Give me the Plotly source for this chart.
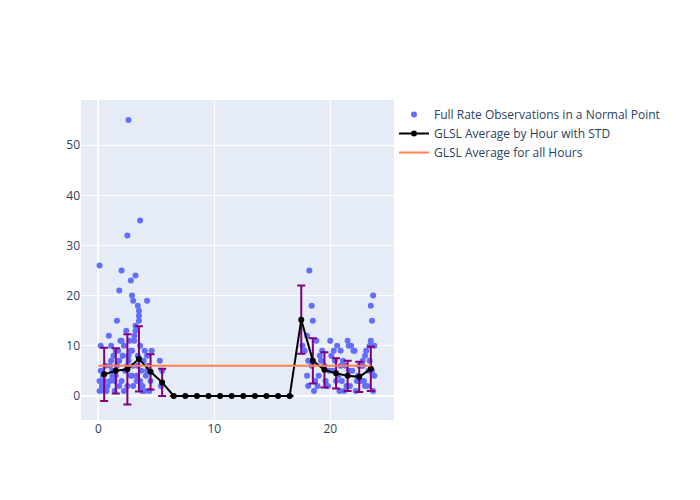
import plotly.graph_objects as go

obs_x = [0.1,0.1,0.2,0.3,0.4,0.5,0.6,0.8,0.9,1.0,1.1,1.2,1.3,1.4,1.5,1.6,1.7,1.8,1.9,2.0,2.1,2.2,2.3,2.4,2.5,2.6,2.7,2.8,2.9,3.0,3.1,3.2,3.3,3.4,3.5,3.6,3.7,3.8,3.9,4.0,4.1,4.2,4.3,4.5,4.6,5.4,5.5,
         0.2,0.5,1.0,1.2,1.5,1.8,2.0,2.2,2.4,2.6,2.8,3.0,3.2,3.4,3.6,3.8,4.2,
         0.3,0.7,1.1,1.4,1.7,2.1,2.5,2.9,3.1,3.3,3.5,3.7,4.0,4.4,5.3,
         0.1,2.6,2.5,2.9,2.0,1.8,3.6,3.2,3.0,2.8,3.4,3.5,1.6,4.2,
         17.6,17.8,18.0,18.2,18.3,18.5,18.7,18.8,19.0,19.3,19.5,19.8,20.0,20.2,20.4,20.6,20.8,21.0,21.3,21.5,21.7,21.9,22.1,22.4,22.6,22.8,23.0,23.2,23.4,23.6,23.7,
         18.1,18.4,19.1,19.6,19.9,20.3,20.7,21.1,21.4,21.8,22.2,22.5,22.9,23.1,23.3,23.5,
         18.0,18.6,19.2,19.7,20.1,20.5,20.9,21.2,21.6,22.0,22.3,22.7,23.0,23.4,23.8,
         18.1,18.4,18.9,23.6,23.7,23.5,23.8,20.9,21.6,22.8]
obs_y = [1,3,5,2,4,1,6,2,12,3,7,5,8,1,4,6,9,2,11,3,8,10,5,13,2,7,11,9,4,6,12,14,3,8,15,10,5,2,7,1,4,8,6,3,9,2,5,
         10,3,6,4,9,7,11,1,5,8,4,2,13,6,3,1,5,
         2,1,10,3,7,8,6,9,11,4,16,2,9,1,7,
         26,55,32,20,25,21,35,24,19,23,18,17,15,19,
         10,9,12,25,7,15,3,11,4,9,6,2,11,5,7,10,1,3,6,11,2,5,9,4,3,6,8,2,7,5,1,
         2,6,8,3,5,9,4,7,2,10,1,6,3,9,5,11,
         4,1,7,2,8,3,6,1,5,9,3,6,2,10,4,
         7,18,2,15,20,18,10,9,10,7]

hours = [0.5,1.5,2.5,3.5,4.5,5.5,6.5,7.5,8.5,9.5,10.5,11.5,12.5,13.5,14.5,15.5,16.5,17.5,18.5,19.5,20.5,21.5,22.5,23.5]
avg = [4.3,5.0,5.3,7.4,4.8,2.7,0,0,0,0,0,0,0,0,0,0,0,15.2,7.0,5.2,4.5,4.0,3.8,5.4]
std = [5.3,4.5,7.0,6.5,3.5,2.7,0,0,0,0,0,0,0,0,0,0,0,6.8,4.5,3.5,3.0,3.0,3.0,4.4]
overall = 6.0

fig = go.Figure()
fig.add_trace(go.Scatter(x=obs_x, y=obs_y, mode="markers", name="Full Rate Observations in a Normal Point",
                         marker=dict(color="#636efa", size=6)))
fig.add_trace(go.Scatter(x=hours, y=avg, mode="lines+markers", name="GLSL Average by Hour with STD",
                         line=dict(color="black"), marker=dict(color="black", size=6),
                         error_y=dict(type="data", array=std, color="purple", visible=True)))
fig.add_trace(go.Scatter(x=[0, 23.5], y=[overall, overall], mode="lines", name="GLSL Average for all Hours",
                         line=dict(color="#ff7f50", width=2)))
fig.update_layout(width=700, height=500, template="plotly",
                  margin=dict(l=73, r=314, t=92, b=88),
                  legend=dict(x=1.0, y=1, xanchor="left", yanchor="top"),
                  xaxis=dict(range=[-1.5, 25.5], tickvals=[0,10,20]),
                  yaxis=dict(range=[-4.8, 59], tickvals=[0,10,20,30,40,50]))
fig.write_html("out.html")
